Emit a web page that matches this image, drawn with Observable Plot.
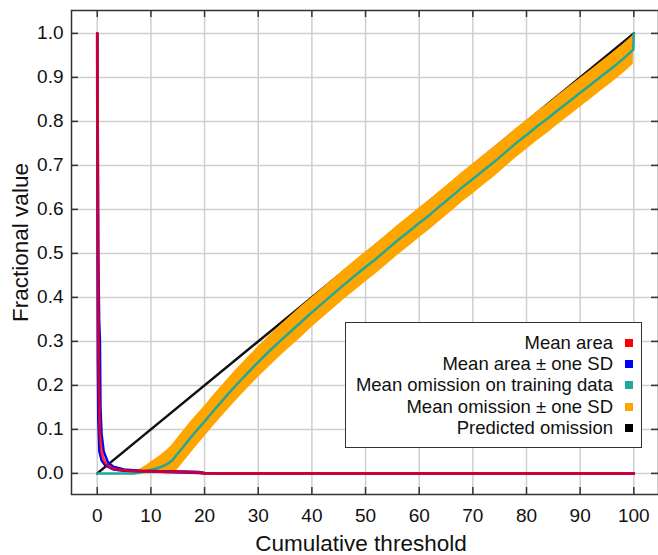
<!DOCTYPE html>
<html><head><meta charset="utf-8">
<script src="https://cdn.jsdelivr.net/npm/d3@7"></script>
<script src="https://cdn.jsdelivr.net/npm/@observablehq/plot@0.6"></script>
<style>
body{margin:0;background:#fff;}
#wrap{position:relative;width:658px;height:555px;font-family:"Liberation Sans",Arial,Helvetica,sans-serif;}
#legend{position:absolute;left:345px;top:322px;width:297px;height:126px;border:1.5px solid #333;background:#fff;box-sizing:border-box;}
.lrow{position:absolute;right:28px;height:20px;line-height:20px;font-size:18.5px;color:#111;white-space:nowrap;}
.lsw{position:absolute;right:8px;width:8px;height:8px;}
</style></head>
<body>
<div id="wrap"><div id="chart"></div><div id="legend"></div></div>
<script>
// ---- data ----
const xTicks = [0, 10, 20, 30, 40, 50, 60, 70, 80, 90, 100];
const yTicks = [0, 0.1, 0.2, 0.3, 0.4, 0.5, 0.6, 0.7, 0.8, 0.9, 1.0];

// Mean area (red)
const areaX    = [0, 0.1, 0.2, 0.3, 0.5, 0.8, 1.2, 2, 3, 4, 6, 8, 12, 16, 19, 20, 22, 100];
const areaMean = [1.0, 0.6, 0.35, 0.2, 0.09, 0.05, 0.03, 0.017, 0.011, 0.008, 0.006, 0.005, 0.004, 0.003, 0.002, 0.0005, 0, 0];
// Mean area +/- one SD (blue)
const areaUpX  = [0, 0.2, 0.35, 0.5, 0.6, 0.8, 1.2, 2, 3, 5, 8, 12, 16, 19, 20, 22, 100];
const areaUp   = [1.0, 0.5, 0.35, 0.3, 0.15, 0.09, 0.05, 0.025, 0.015, 0.009, 0.006, 0.005, 0.004, 0.003, 0.001, 0, 0];
const areaLoX  = [0, 0.05, 0.1, 0.2, 0.4, 0.8, 1.5, 3, 5, 10, 16, 19, 20, 100];
const areaLo   = [1.0, 0.5, 0.26, 0.12, 0.05, 0.03, 0.018, 0.009, 0.006, 0.004, 0.002, 0.001, 0, 0];

// Mean omission on training data (teal) and its SD (orange band)
const omX   = [0, 2, 4, 6, 7, 8, 9, 10, 11, 12, 13, 14, 15, 16, 17, 18, 19, 20, 22, 24, 26, 28, 30, 32, 34, 36, 38, 40, 42, 44, 46, 48, 50, 52, 54, 56, 58, 60, 62, 64, 66, 68, 70, 72, 74, 76, 78, 80, 82, 84, 86, 88, 90, 92, 94, 96, 98, 99.9, 100];
const omMean= [0, 0, 0, 0, 0, 0.002, 0.004, 0.008, 0.011, 0.015, 0.021, 0.03, 0.045, 0.06, 0.075, 0.09, 0.104, 0.118, 0.147, 0.175, 0.202, 0.228, 0.253, 0.277, 0.3, 0.322, 0.344, 0.366, 0.387, 0.408, 0.429, 0.449, 0.469, 0.488, 0.509, 0.53, 0.549, 0.569, 0.588, 0.609, 0.629, 0.65, 0.669, 0.689, 0.708, 0.729, 0.75, 0.769, 0.789, 0.807, 0.827, 0.846, 0.865, 0.884, 0.903, 0.922, 0.942, 0.963, 1.0];
const omSD  = [0, 0, 0, 0, 0.004, 0.008, 0.013, 0.018, 0.023, 0.028, 0.032, 0.035, 0.036, 0.036, 0.036, 0.036, 0.035, 0.035, 0.035, 0.035, 0.035, 0.035, 0.035, 0.035, 0.035, 0.035, 0.035, 0.034, 0.034, 0.034, 0.034, 0.034, 0.034, 0.034, 0.034, 0.034, 0.034, 0.034, 0.034, 0.034, 0.034, 0.034, 0.034, 0.034, 0.034, 0.033, 0.033, 0.033, 0.033, 0.033, 0.033, 0.033, 0.033, 0.033, 0.033, 0.033, 0.033, 0.033, 0.0];

// Predicted omission (black)
const predX = [0, 100];
const predY = [0, 1];

const legendLabels = ["Mean area", "Mean area \u00b1 one SD", "Mean omission on training data", "Mean omission \u00b1 one SD", "Predicted omission"];
const legendColors = ["#ff0000", "#0000ff", "#1fa99b", "#ffa500", "#000000"];

// ---- build tables ----
const area = areaX.map((x, i) => ({x, y: areaMean[i]}));
const areaU = areaUpX.map((x, i) => ({x, y: areaUp[i]}));
const areaL = areaLoX.map((x, i) => ({x, y: areaLo[i]}));
const om = omX.map((x, i) => ({x, y: omMean[i], lo: Math.max(0, omMean[i] - omSD[i]), hi: omMean[i] + omSD[i]}));
const pred = predX.map((x, i) => ({x, y: predY[i]}));

const font = "Liberation Sans, Arial, Helvetica, sans-serif";
const chart = Plot.plot({
  width: 658, height: 555,
  marginLeft: 71, marginRight: 0, marginTop: 10, marginBottom: 61,
  x: {domain: [-4.8, 104.6]},
  y: {domain: [-0.048, 1.052]},
  style: {fontFamily: font, background: "white", color: "#111", overflow: "visible"},
  marks: [
    Plot.gridX({ticks: xTicks, stroke: "#cfcfcf", strokeOpacity: 1, strokeWidth: 1.5}),
    Plot.gridY({ticks: yTicks, stroke: "#cfcfcf", strokeOpacity: 1, strokeWidth: 1.5}),
    Plot.line(pred, {x: "x", y: "y", stroke: "#111", strokeWidth: 2.5}),
    Plot.areaY(om.filter(d => d.x >= 7), {x: "x", y1: "lo", y2: "hi", fill: "#ffa500"}),
    Plot.line(om, {x: "x", y: "y", stroke: "#1fa99b", strokeWidth: 2.5}),
    Plot.line(areaU, {x: "x", y: "y", stroke: "#0000ff", strokeWidth: 2.5}),
    Plot.line(areaL, {x: "x", y: "y", stroke: "#0000ff", strokeWidth: 2.5}),
    Plot.line(area, {x: "x", y: "y", stroke: "#ff0000", strokeWidth: 3, strokeOpacity: 0.78}),
    Plot.tickX(xTicks, {x: d => d, insetTop: 477, stroke: "#333", strokeWidth: 1.5}),
    Plot.tickX(xTicks, {x: d => d, insetBottom: 477, stroke: "#333", strokeWidth: 1.5}),
    Plot.tickY(yTicks, {y: d => d, insetRight: 580, stroke: "#333", strokeWidth: 1.5}),
    Plot.tickY(yTicks, {y: d => d, insetLeft: 580, stroke: "#333", strokeWidth: 1.5}),
    Plot.axisX({ticks: xTicks, tickSize: 0, tickPadding: 14, fontSize: 19, label: null}),
    Plot.axisY({ticks: yTicks, tickSize: 0, tickPadding: 8, fontSize: 19, tickFormat: d3.format(".1f"), label: null}),
    Plot.text(["Cumulative threshold"], {frameAnchor: "bottom", lineAnchor: "middle", textAnchor: "middle", dy: 49, dx: -4, fontSize: 22.5, fill: "#111"}),
    Plot.text(["Fractional value"], {frameAnchor: "left", lineAnchor: "middle", textAnchor: "middle", dx: -51, dy: -10, rotate: -90, fontSize: 22.5, fill: "#111"}),
    Plot.frame({stroke: "#333", strokeWidth: 1.5})
  ]
});
document.getElementById("chart").appendChild(chart);

const lg = document.getElementById("legend");
const rowCenters = [20, 41, 62, 84, 105];
legendLabels.forEach((t, i) => {
  const r = document.createElement("div");
  r.className = "lrow"; r.textContent = t; r.style.top = (rowCenters[i] - 10) + "px";
  lg.appendChild(r);
  const s = document.createElement("div");
  s.className = "lsw"; s.style.background = legendColors[i]; s.style.top = (rowCenters[i] - 4) + "px";
  lg.appendChild(s);
});
</script>
</body></html>
